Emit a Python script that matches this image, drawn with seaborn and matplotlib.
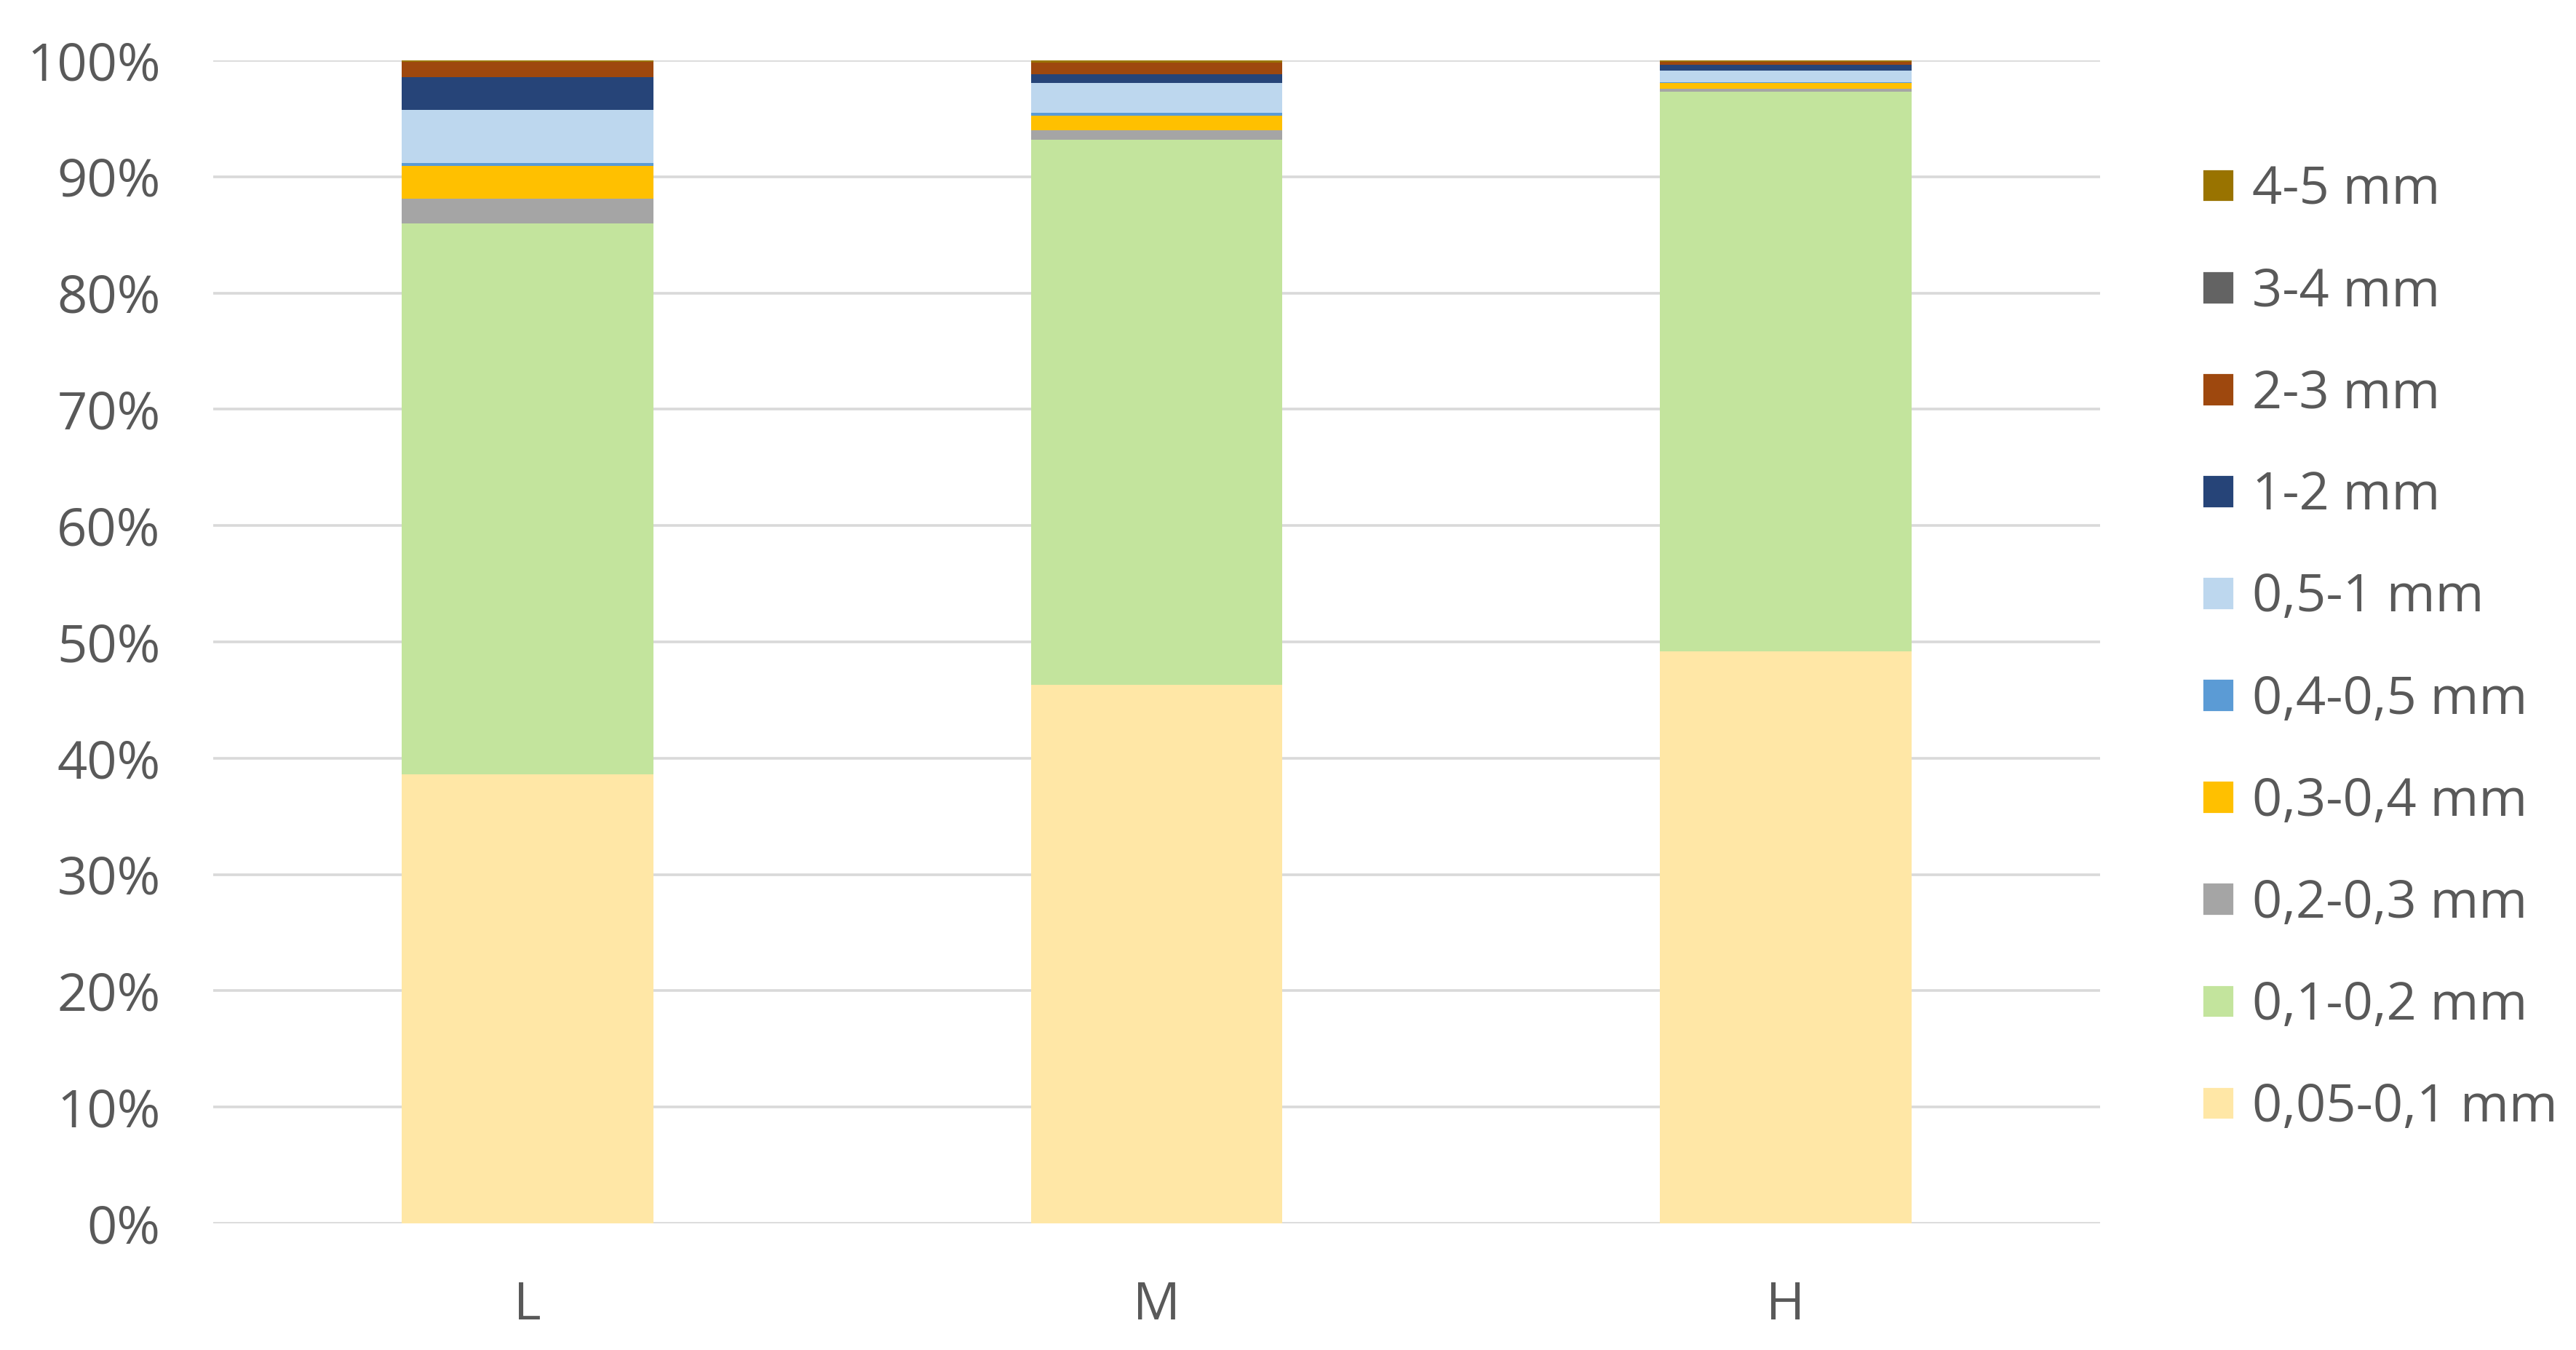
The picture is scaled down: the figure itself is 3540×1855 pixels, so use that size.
import numpy as np
import pandas as pd
import seaborn as sns
import matplotlib.pyplot as plt
from matplotlib.patches import Patch

# categories and size fractions (% of total), bottom -> top
groups = ['L', 'M', 'H']
fractions = ['0,05-0,1 mm', '0,1-0,2 mm', '0,2-0,3 mm', '0,3-0,4 mm', '0,4-0,5 mm',
             '0,5-1 mm', '1-2 mm', '2-3 mm', '3-4 mm', '4-5 mm']
L_vals = [38.6, 47.4, 2.1, 2.8, 0.25, 4.6, 2.8, 1.3, 0.0, 0.15]
M_vals = [46.3, 46.9, 0.77, 1.25, 0.27, 2.57, 0.77, 1.0, 0.0, 0.17]
H_vals = [49.2, 48.1, 0.25, 0.52, 0.05, 0.98, 0.5, 0.25, 0.0, 0.15]
colors = ['#FFE7A6', '#C3E49D', '#A5A5A5', '#FFC000', '#5B9BD5',
          '#BDD7EE', '#264478', '#9E480E', '#636363', '#997300']

df = pd.DataFrame({'L': L_vals, 'M': M_vals, 'H': H_vals}, index=fractions).T
cum = df.cumsum(axis=1)

sns.set_style('white')
plt.rcParams['font.family'] = ['Open Sans', 'DejaVu Sans']
txt = '#595959'

fig, ax = plt.subplots(figsize=(17.705, 9.275), dpi=200)
fig.subplots_adjust(left=0.0827, right=0.815, top=0.9553, bottom=0.0938)

# grid lines behind bars
ax.set_axisbelow(True)
ax.yaxis.grid(True, color='#D9D9D9', linewidth=1.3)

# stacked bars: draw cumulative totals from top segment down
for i in range(len(fractions) - 1, -1, -1):
    sns.barplot(x=groups, y=cum.iloc[:, i].values, color=colors[i], width=0.4,
                saturation=1, linewidth=0, edgecolor='none', ax=ax, zorder=2)

ax.set_ylim(0, 100)
ax.set_xlim(-0.5, 2.5)
ax.set_yticks(np.arange(0, 101, 10))
ax.set_yticklabels([f'{v}%' for v in range(0, 101, 10)])
ax.tick_params(axis='both', length=0, labelsize=26, colors=txt)
ax.tick_params(axis='y', pad=26)
ax.tick_params(axis='x', pad=28)
for s in ax.spines.values():
    s.set_visible(False)
ax.set_xlabel('')
ax.set_ylabel('')

handles = [Patch(facecolor=colors[i], label=fractions[i]) for i in range(len(fractions) - 1, -1, -1)]
leg = fig.legend(handles=handles, loc='upper left', bbox_to_anchor=(0.8465, 0.894),
                 frameon=False, fontsize=26, labelcolor=txt, handlelength=0.6,
                 handleheight=0.6, handletextpad=0.35, labelspacing=0.95, borderaxespad=0)

fig.savefig('out.png', dpi=200)
